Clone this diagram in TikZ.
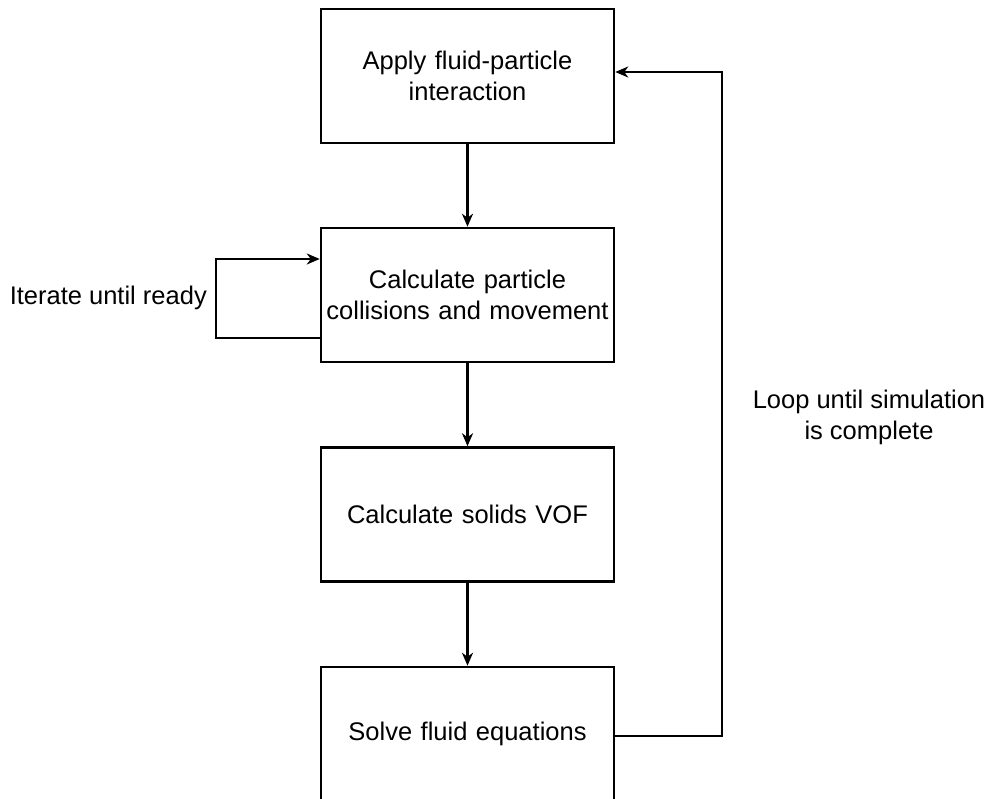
\documentclass[tikz,border=0pt]{standalone}
\usepackage{fontspec}
\setmainfont{Liberation Sans}
\usetikzlibrary{arrows.meta}
\begin{document}
\begin{tikzpicture}[x=1pt,y=-1pt,
  every node/.style={font=\fontsize{25.5}{31}\selectfont},
  stepbox/.style={draw, line width=2.5pt, minimum width=293pt, minimum height=134pt, inner sep=0pt, align=center, text width=285pt},
  lbl/.style={inner sep=0pt, align=center},
  arr/.style={line width=2.5pt, -{Stealth[length=13pt,width=11pt,inset=4pt]}},
  ln/.style={line width=2.5pt}]
\useasboundingbox (0,0) rectangle (988,798);
\clip (0,0) rectangle (988,798);
\fill[white] (0,0) rectangle (988,798);
\node[stepbox] (b1) at (467.5,76) {Apply fluid-particle\\interaction};
\node[stepbox] (b2) at (467.5,295) {Calculate particle\\collisions and movement};
\node[stepbox] (b3) at (467.5,514.5) {Calculate solids VOF};
\node[stepbox] (b4) at (467.5,734) {Solve fluid equations};
\draw[arr] (b1) -- (b2);
\draw[arr] (b2) -- (b3);
\draw[arr] (b3) -- (b4);
\coordinate (l1) at (216,338);
\coordinate (l2) at (216,259);
\draw[arr, line join=miter] (b2.west |- l1) -- (l1) -- (l2) -- (b2.west |- l2);
\coordinate (r1) at (722,736);
\coordinate (r2) at (722,72);
\draw[arr, line join=miter] (b4.east |- r1) -- (r1) -- (r2) -- (b1.east |- r2);
\node[lbl, anchor=east] (it) at (207,298) {Iterate until ready};
\node[lbl] (lp) at (869,417) {Loop until simulation\\is complete};
\end{tikzpicture}
\end{document}
